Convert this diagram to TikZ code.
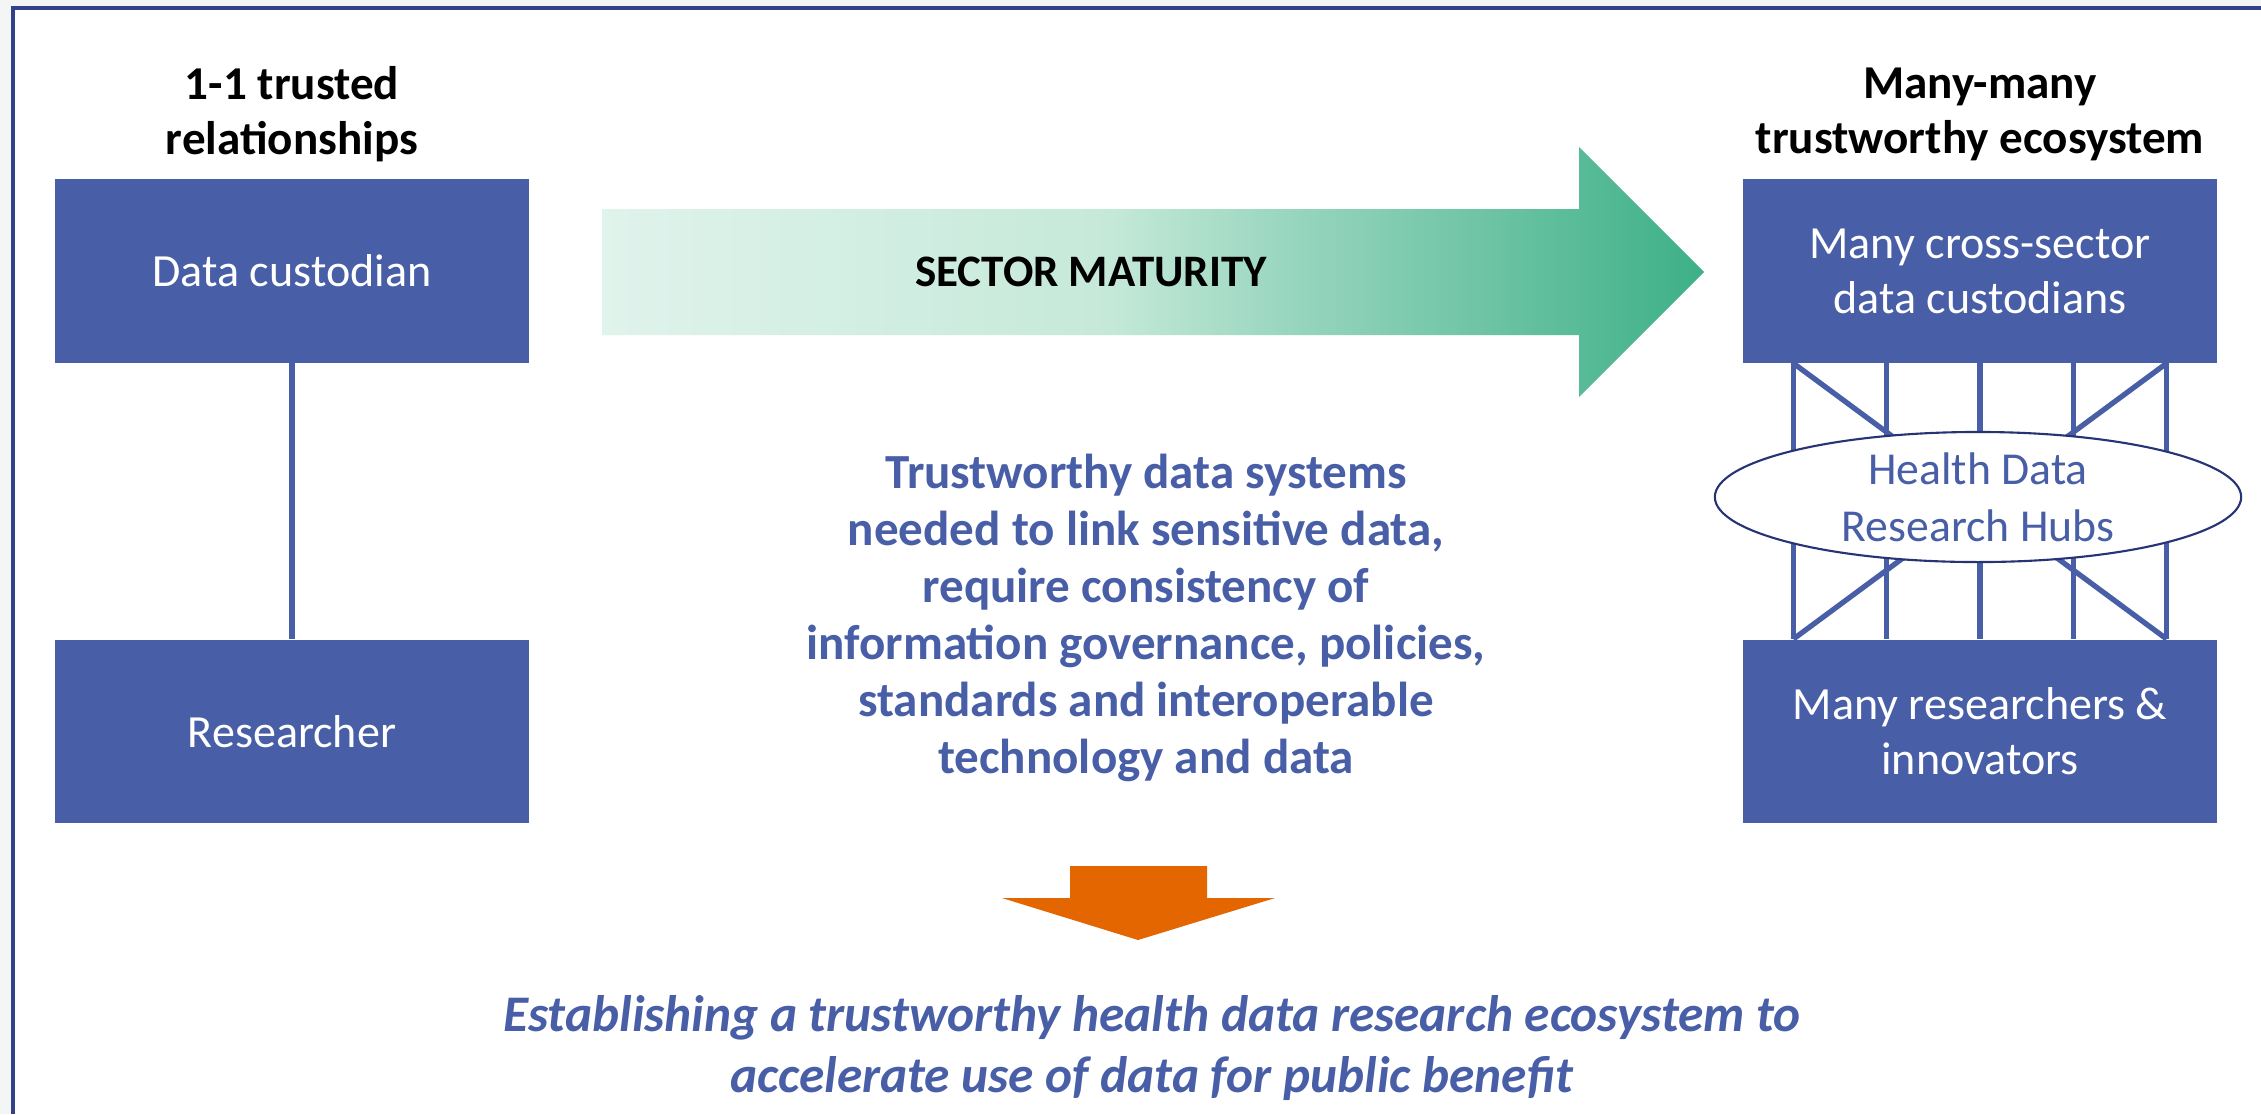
\documentclass[tikz,border=0pt]{standalone}
\usepackage{fontspec}
\setmainfont{Carlito}
\usetikzlibrary{shapes.geometric}
\definecolor{hdrblue}{RGB}{72,94,167}
\definecolor{framblue}{RGB}{50,66,138}
\definecolor{hubline}{RGB}{38,52,118}
\definecolor{hdrorange}{RGB}{228,102,0}
\definecolor{pagegrey}{RGB}{244,245,245}
\pgfdeclarehorizontalshading{maturity}{100bp}{rgb(0bp)=(0.878,0.953,0.925); rgb(25bp)=(0.878,0.953,0.925); rgb(48bp)=(0.773,0.914,0.851); rgb(56bp)=(0.60,0.84,0.75); rgb(75bp)=(0.24,0.69,0.53); rgb(100bp)=(0.24,0.69,0.53)}

\begin{document}
\begin{tikzpicture}[x=0.01cm,y=-0.01cm,node distance=4.6cm,
    box node/.style={rectangle,fill=hdrblue,text=white,minimum width=4.73cm,minimum height=1.83cm,inner sep=0pt,align=center,font=\fontsize{13.1}{15.6}\selectfont},
    head node/.style={align=center,font=\fontsize{13.4}{15.6}\selectfont\bfseries},
    hub node/.style={ellipse,draw=hubline,line width=0.6pt,fill=white,minimum width=5.26cm,minimum height=1.3cm,inner sep=0pt,text=hdrblue,align=center,font=\fontsize{13}{16.2}\selectfont},
    link line/.style={draw=hdrblue,line width=1.5pt}]
                \useasboundingbox (0,0) rectangle (2261,1114);
                \fill[pagegrey] (0,0) rectangle (2261,1114);
                \fill[white] (13,8) rectangle (2261,1114);
                \draw[framblue,line width=1pt] (2261,8) -- (13,8) -- (13,1114);

                \node[head node] (onehead) at (292,114) {1-1 trusted\\relationships};
                \node[head node] (manyhead) at (1980,114) {Many-many\\trustworthy ecosystem};

                \node[box node] (cust) at (292,271) {Data custodian};
                \node[box node] (res) [below of = cust] {Researcher};
                \node[box node] (many) at (1980,271) {Many cross-sector\\data custodians};
                \node[box node] (inno) [below of = many] {Many researchers \&\\innovators};

                \path[link line] (cust) edge (res);

                \foreach \dx in {-186.5,-93.25,0,93.25,186.5}
                    \path[link line] ([xshift=\dx*0.01cm]many.south) edge ([xshift=\dx*0.01cm]inno.north);
                \path[link line]
                    ([xshift=-1.865cm]many.south) edge ([xshift=1.865cm]inno.north)
                    ([xshift=1.865cm]many.south) edge ([xshift=-1.865cm]inno.north)
                    ;

                \node[hub node] (hubs) at (1978,497) {Health Data\\Research Hubs};

                \shade[shading=maturity] (602,209) -- (1579,209) -- (1579,147) -- (1704,272) -- (1579,397) -- (1579,335) -- (602,335) -- cycle;
                \node[font=\fontsize{12.8}{15}\selectfont\bfseries] (sector) at (1091,272) {SECTOR MATURITY};

                \node[text=hdrblue,align=center,font=\fontsize{13.95}{16.2}\selectfont\bfseries] (needs) at (1146,618)
                    {Trustworthy data systems\\needed to link sensitive data,\\require consistency of\\information governance, policies,\\standards and interoperable\\technology and data};

                \fill[hdrorange] (1070,866) -- (1207,866) -- (1207,898) -- (1275,898) -- (1138,940) -- (1002,898) -- (1070,898) -- cycle;

                \node[text=hdrblue,align=center,font=\fontsize{14.6}{17.6}\selectfont\bfseries\itshape] (goal) at (1152,1048)
                    {Establishing a trustworthy health data research ecosystem to\\accelerate use of data for public benefit};
            \end{tikzpicture}
\end{document}
